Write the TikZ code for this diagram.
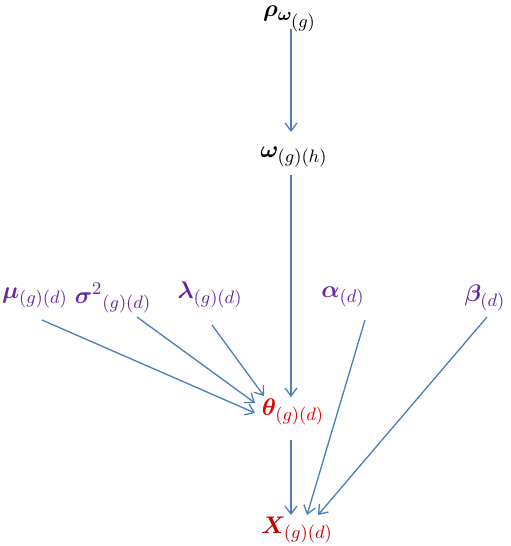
\documentclass[tikz,border=0pt]{standalone}
\usepackage{amsmath,amssymb,bm}
\usepackage{xcolor}
\usepackage{tikz}
\usetikzlibrary{arrows.meta,calc}
\definecolor{arrowblue}{HTML}{4A7EBB}
\definecolor{parpurple}{HTML}{6328A0}
\definecolor{latred}{HTML}{E00000}
\definecolor{obsred}{HTML}{C00000}

\begin{document}
\begin{tikzpicture}[x=0.5pt,y=-0.5pt,
    var/.style={inner sep=0pt,font=\fontsize{12.5}{15}\selectfont},
    hyper/.style={var,text=parpurple},
    arr/.style={draw=arrowblue,line width=0.65pt,-{Straight Barb[length=4pt,width=6pt]}}]
    \useasboundingbox (0,0) rectangle (510,546);
    % nodes
    \node[var] (rho) at (290,19) {$\bm{\rho}_{\bm{\omega}_{\scriptstyle(g)}}$};
    \node[var] (omega) at (294,157) {$\bm{\omega}_{(g)(h)}$};
    \node[hyper] (mu) at (35,298) {$\bm{\mu}_{(g)(d)}$};
    \node[hyper] (sigma) at (113,298) {${\bm{\sigma}^{2}}_{(g)(d)}$};
    \node[hyper] (lambda) at (210,295) {$\bm{\lambda}_{(g)(d)}$};
    \node[hyper] (alpha) at (343,297) {$\bm{\alpha}_{(d)}$};
    \node[hyper] (beta) at (485,298) {$\bm{\beta}_{(d)}$};
    \node[var,text=latred] (theta) at (293,412) {$\bm{\theta}_{(g)(d)}$};
    \node[var,text=obsred] (x) at (297,530) {$\bm{X}_{(g)(d)}$};
    % edges
    \draw[arr] (rho) ++(1,10) -- ($(omega)+(-3,-25)$);
    \draw[arr] (omega) ++(-3,18) -- ($(theta)+(-2,-15)$);
    \draw[arr] (mu) ++(7,22) -- ($(theta)+(-38,1)$);
    \draw[arr] (sigma) ++(24,19) -- ($(theta)+(-38,-9)$);
    \draw[arr] (lambda) ++(2,30) -- ($(theta)+(-29,-16)$);
    \draw[arr] (theta) ++(-2,28) -- ($(x)+(-6,-15)$);
    \draw[arr] (alpha) ++(22,23) -- ($(x)+(10,-15)$);
    \draw[arr] (beta) ++(2,19) -- ($(x)+(21,-15)$);
\end{tikzpicture}
\end{document}
